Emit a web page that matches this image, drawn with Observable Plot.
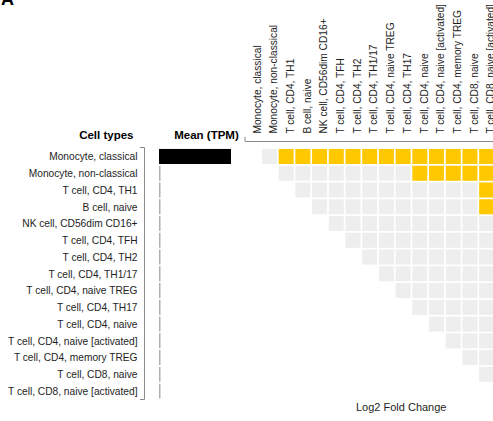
<!DOCTYPE html>
<html><head><meta charset="utf-8">
<script src="https://cdn.jsdelivr.net/npm/d3@7"></script>
<script src="https://cdn.jsdelivr.net/npm/@observablehq/plot@0.6"></script>
<style>
body{margin:0;background:#fff;overflow:hidden;font-family:"Liberation Sans",Arial,sans-serif;}
#chart{position:relative;width:493px;height:421px;overflow:hidden;background:#fff;}
#chart svg{position:absolute;left:0;top:0;}
#panel{position:absolute;left:1px;top:-10px;font:bold 18px "Liberation Sans",Arial,sans-serif;line-height:18px;color:#000;}
</style></head><body><div id="chart"><div id="panel">A</div></div>
<script>
const cellTypes = [
  "Monocyte, classical",
  "Monocyte, non-classical",
  "T cell, CD4, TH1",
  "B cell, naive",
  "NK cell, CD56dim CD16+",
  "T cell, CD4, TFH",
  "T cell, CD4, TH2",
  "T cell, CD4, TH1/17",
  "T cell, CD4, naive TREG",
  "T cell, CD4, TH17",
  "T cell, CD4, naive",
  "T cell, CD4, naive [activated]",
  "T cell, CD4, memory TREG",
  "T cell, CD8, naive",
  "T cell, CD8, naive [activated]"
];
const meanTPM = [21.5, 0, 0, 0, 0, 0, 0, 0, 0, 0, 0, 0, 0, 0, 0];
// 1 = elevated (yellow), 0 = not elevated (grey), null = no comparison
const n = null;
const elevated = [
  [n,0,1,1,1,1,1,1,1,1,1,1,1,1,1],
  [n,n,0,0,0,0,0,0,0,0,1,1,1,1,1],
  [n,n,n,0,0,0,0,0,0,0,0,0,0,0,1],
  [n,n,n,n,0,0,0,0,0,0,0,0,0,0,1],
  [n,n,n,n,n,0,0,0,0,0,0,0,0,0,0],
  [n,n,n,n,n,n,0,0,0,0,0,0,0,0,0],
  [n,n,n,n,n,n,n,0,0,0,0,0,0,0,0],
  [n,n,n,n,n,n,n,n,0,0,0,0,0,0,0],
  [n,n,n,n,n,n,n,n,n,0,0,0,0,0,0],
  [n,n,n,n,n,n,n,n,n,n,0,0,0,0,0],
  [n,n,n,n,n,n,n,n,n,n,n,0,0,0,0],
  [n,n,n,n,n,n,n,n,n,n,n,n,0,0,0],
  [n,n,n,n,n,n,n,n,n,n,n,n,n,0,0],
  [n,n,n,n,n,n,n,n,n,n,n,n,n,n,0],
  [n,n,n,n,n,n,n,n,n,n,n,n,n,n,n]
];
const headerLeft = "Cell types";
const headerMean = "Mean (TPM)";
const xTitle = "Log2 Fold Change";

const rows = cellTypes.map((name, i) => ({name, mean: meanTPM[i]}));
const cells = [];
elevated.forEach((r, i) => r.forEach((v, j) => {
  if (v !== null) cells.push({row: cellTypes[i], col: cellTypes[j], value: v});
}));

const FONT = "font-family:'Liberation Sans',Arial,sans-serif;";
const svgStyle = FONT + "background:transparent;max-width:none;overflow:visible;font-size:10.2px;";

const rowBracket = (index, scales, values, dims) => {
  const y0 = dims.marginTop - 0.6, y1 = dims.height - dims.marginBottom;
  const xb = dims.marginLeft - 14.5;
  return d3.create("svg:path")
    .attr("d", `M${xb - 4.5},${y0}H${xb}V${y1}H${xb - 4.5}`)
    .attr("fill", "none").attr("stroke", "#8a8a8a").attr("stroke-width", 1)
    .node();
};
const colBracket = (index, scales, values, dims) => {
  const xl = dims.marginLeft + 0.6;
  const yb = dims.marginTop - 6.6;
  return d3.create("svg:path")
    .attr("d", `M${xl},${yb - 4.5}V${yb}H${dims.width + 10}`)
    .attr("fill", "none").attr("stroke", "#8a8a8a").attr("stroke-width", 1)
    .node();
};
// zero baseline of the mean bars, one segment per row band
const zeroBaseline = (index, scales) => {
  const {x, y} = scales;
  const bw = y.bandwidth ? y.bandwidth() : 0;
  const g = d3.create("svg:g").attr("stroke", "#b0b0b0").attr("stroke-width", 1.5);
  rows.forEach(d => {
    g.append("line")
      .attr("x1", x(0) + 0.75).attr("x2", x(0) + 0.75)
      .attr("y1", y(d.name) + 0.9).attr("y2", y(d.name) + bw - 0.9);
  });
  return g.node();
};

const barPlot = Plot.plot({
  width: 245, height: 421,
  marginLeft: 159, marginRight: 14, marginTop: 148.1, marginBottom: 21.5,
  style: svgStyle,
  x: {domain: [0, d3.max(meanTPM)], axis: null},
  y: {type: "band", domain: cellTypes, padding: 0, round: false, axis: null},
  marks: [
    Plot.axisY({tickSize: 0, tickPadding: 22, label: null, fontSize: 10.2, color: "#1e1e1e"}),
    zeroBaseline,
    Plot.barX(rows, {x: "mean", y: "name", fill: "#000", insetTop: 0.85, insetBottom: 0.85}),
    rowBracket,
    Plot.text([headerLeft], {frameAnchor: "top-left", dx: -26, dy: -17.5, textAnchor: "end", fontSize: 11.5, fontWeight: "bold", fill: "#000"}),
    Plot.text([headerMean], {frameAnchor: "top-left", dx: 47, dy: -17.5, textAnchor: "middle", fontSize: 11.5, fontWeight: "bold", fill: "#000"})
  ]
});

const cellPlot = Plot.plot({
  width: 500, height: 421,
  marginLeft: 244.4, marginRight: 5, marginTop: 148.1, marginBottom: 21.5,
  style: svgStyle,
  x: {type: "band", domain: cellTypes, padding: 0, round: false, axis: null},
  y: {type: "band", domain: cellTypes, padding: 0, round: false, axis: null},
  color: {type: "ordinal", domain: [0, 1], range: ["#eeeeee", "#ffc800"]},
  marks: [
    Plot.cell(cells, {x: "col", y: "row", fill: "value", inset: 0.85}),
    Plot.text(cellTypes, {x: d => d, frameAnchor: "top", dy: -15, rotate: -90, textAnchor: "start", fontSize: 10.2, fill: "#1e1e1e"}),
    colBracket,
    Plot.text([xTitle], {frameAnchor: "bottom", dx: 31, dy: 10.5, fontSize: 11, fill: "#1e1e1e"})
  ]
});

const chart = document.getElementById("chart");
chart.appendChild(barPlot);
chart.appendChild(cellPlot);
</script></body></html>
